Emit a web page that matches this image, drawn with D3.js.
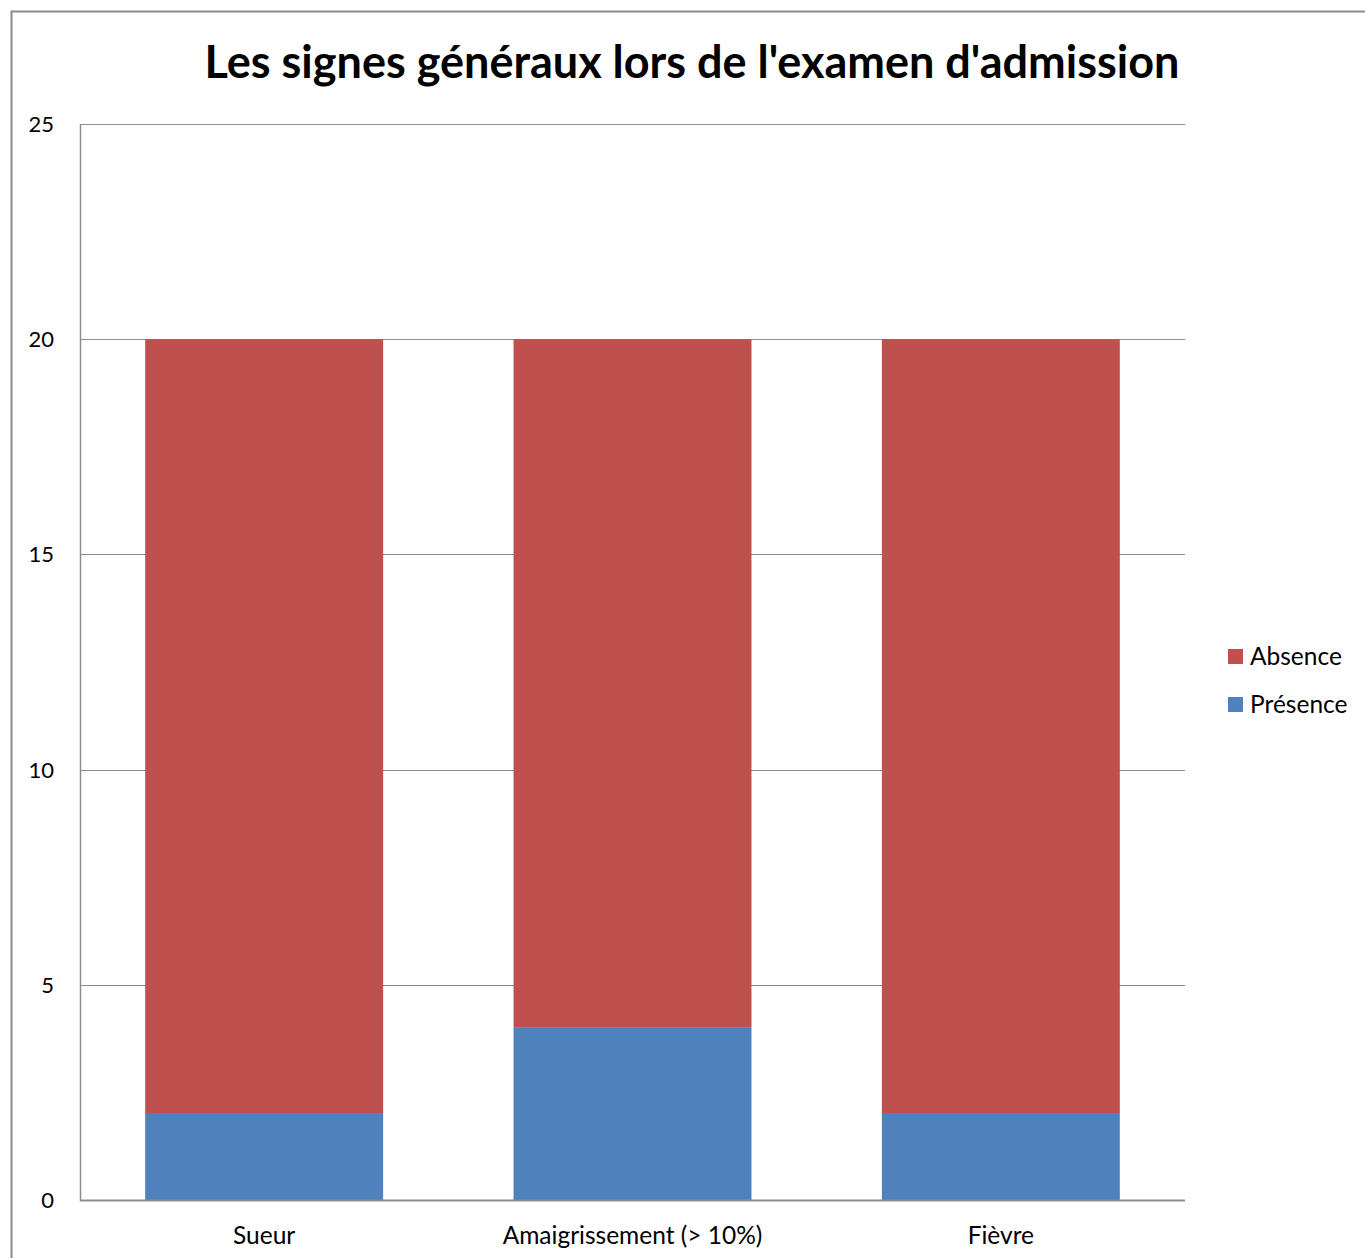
<!DOCTYPE html>
<html>
<head>
<meta charset="utf-8">
<script src="https://d3js.org/d3.v7.min.js"></script>
<style>
  body { margin: 0; background: #fff; }
  text { font-family: Lato, "Open Sans", sans-serif; fill: #000; }
</style>
</head>
<body>
<div id="chart"></div>
<script>
// Data
const categories = ["Sueur", "Amaigrissement (> 10%)", "Fièvre"];
const presence = [2, 4, 2];
const absence = [18, 16, 18];
const seriesNames = ["Présence", "Absence"];
const seriesColors = ["#4F81BD", "#C0504D"];
const yTicks = [0, 5, 10, 15, 20, 25];

const width = 1365, height = 1258;
const margin = { left: 80, right: 1185, top: 124, bottom: 1200 };

const svg = d3.select("#chart")
	.append("svg")
	.attr("width", width)
	.attr("height", height);

// chart border
svg.append("rect")
	.attr("x", 11.5).attr("y", 11.5)
	.attr("width", 1365).attr("height", 1300)
	.attr("fill", "none")
	.attr("stroke", "#8a8a8a")
	.attr("stroke-width", 2);

const x = d3.scaleBand()
	.domain(categories)
	.range([margin.left, margin.right])
	.paddingInner(0.354)
	.paddingOuter(0.177);

const y = d3.scaleLinear()
	.domain([0, 25])
	.range([margin.bottom, margin.top]);

// gridlines
svg.append("g")
	.selectAll("line")
	.data(yTicks)
	.enter()
	.append("line")
	.attr("x1", margin.left)
	.attr("x2", margin.right)
	.attr("y1", d => Math.round(y(d)) + 0.5)
	.attr("y2", d => Math.round(y(d)) + 0.5)
	.attr("stroke", "#8c8c8c")
	.attr("stroke-width", 1);

// stacked bars
const rows = categories.map((c, i) => ({ cat: c, "Présence": presence[i], "Absence": absence[i] }));
const stack = d3.stack().keys(seriesNames)(rows);

svg.append("g")
	.selectAll("g")
	.data(stack)
	.enter()
	.append("g")
	.attr("fill", (d, i) => seriesColors[i])
	.selectAll("rect")
	.data(d => d)
	.enter()
	.append("rect")
	.attr("x", d => x(d.data.cat))
	.attr("width", x.bandwidth())
	.attr("y", d => y(d[1]))
	.attr("height", d => y(d[0]) - y(d[1]));

// axes lines
svg.append("line")
	.attr("x1", margin.left + 0.5).attr("x2", margin.left + 0.5)
	.attr("y1", margin.top).attr("y2", margin.bottom + 1)
	.attr("stroke", "#8c8c8c").attr("stroke-width", 1.5);
svg.append("line")
	.attr("x1", margin.left).attr("x2", margin.right)
	.attr("y1", margin.bottom + 0.5).attr("y2", margin.bottom + 0.5)
	.attr("stroke", "#8c8c8c").attr("stroke-width", 2);

// y tick labels
svg.append("g")
	.selectAll("text")
	.data(yTicks)
	.enter()
	.append("text")
	.attr("x", 54)
	.attr("y", d => y(d) + 8)
	.attr("text-anchor", "end")
	.style("font-size", "22px")
	.text(d => d);

// x labels
svg.append("g")
	.selectAll("text")
	.data(categories)
	.enter()
	.append("text")
	.attr("x", d => x(d) + x.bandwidth() / 2)
	.attr("y", 1244)
	.attr("text-anchor", "middle")
	.style("font-size", "24.5px")
	.text(d => d);

// title
svg.append("text")
	.attr("x", 692)
	.attr("y", 78)
	.attr("text-anchor", "middle")
	.style("font-size", "45px")
	.style("font-weight", "bold")
	.text("Les signes généraux lors de l'examen d'admission");

// legend (Absence on top)
const legendItems = [
	{ name: seriesNames[1], color: seriesColors[1] },
	{ name: seriesNames[0], color: seriesColors[0] }
];
const legend = svg.append("g").attr("id", "legend");
legend.selectAll("rect")
	.data(legendItems)
	.enter()
	.append("rect")
	.attr("x", 1228)
	.attr("y", (d, i) => 649 + i * 48)
	.attr("width", 15)
	.attr("height", 15)
	.attr("fill", d => d.color);
legend.selectAll("text")
	.data(legendItems)
	.enter()
	.append("text")
	.attr("x", 1250)
	.attr("y", (d, i) => 665 + i * 48)
	.style("font-size", "24.5px")
	.text(d => d.name);
</script>
</body>
</html>
